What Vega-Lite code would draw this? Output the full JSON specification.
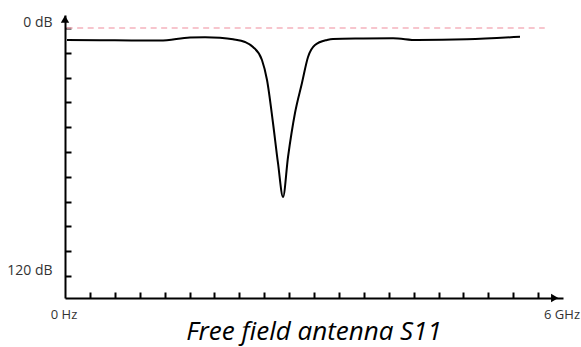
{
  "$schema": "https://vega.github.io/schema/vega-lite/v6.json",
  "autosize": "none",
  "width": 498,
  "height": 283,
  "padding": {"left": 65, "top": 15, "right": 18, "bottom": 49},
  "background": "white",
  "config": {"view": {"stroke": null}},
  "title": {
    "text": "Free field antenna S11",
    "orient": "bottom",
    "anchor": "middle",
    "font": "Open Sans",
    "fontStyle": "italic",
    "fontWeight": "normal",
    "fontSize": 26,
    "color": "#000000",
    "offset": -2
  },
  "datasets": {
    "curve": [
      {"f": 0.024, "db": 5.8},
      {"f": 0.42, "db": 5.95},
      {"f": 0.8, "db": 6.0},
      {"f": 1.145, "db": 6.05},
      {"f": 1.506, "db": 4.6},
      {"f": 1.687, "db": 4.45},
      {"f": 1.867, "db": 4.74},
      {"f": 2.024, "db": 5.47},
      {"f": 2.169, "db": 6.77},
      {"f": 2.265, "db": 9.19},
      {"f": 2.373, "db": 15.48},
      {"f": 2.434, "db": 25.16},
      {"f": 2.506, "db": 45.97},
      {"f": 2.566, "db": 65.32},
      {"f": 2.627, "db": 81.77},
      {"f": 2.687, "db": 62.42},
      {"f": 2.771, "db": 41.13},
      {"f": 2.855, "db": 26.61},
      {"f": 2.928, "db": 14.03},
      {"f": 3.012, "db": 8.23},
      {"f": 3.157, "db": 5.81},
      {"f": 3.229, "db": 5.32},
      {"f": 3.554, "db": 5.08},
      {"f": 3.952, "db": 4.98},
      {"f": 4.241, "db": 5.81},
      {"f": 4.843, "db": 5.47},
      {"f": 5.482, "db": 4.21}
    ],
    "ref": [{"f0": 0.02, "f1": 5.78, "db": 0}],
    "arrows": [
      {"f": 0, "db": -4.3, "shape": "triangle-up"},
      {"f": 5.9, "db": 130.65, "shape": "triangle-right"}
    ]
  },
  "layer": [
    {
      "data": {"name": "ref"},
      "mark": {"type": "rule", "color": "#f5b3bd", "strokeWidth": 1.5, "strokeDash": [6, 4.5]},
      "encoding": {
        "x": {"field": "f0", "type": "quantitative", "scale": {"domain": [0, 6], "nice": false, "zero": false},
          "axis": {
            "values": [0, 0.3, 0.6, 0.9, 1.2, 1.5, 1.8, 2.1, 2.4, 2.7, 3.0, 3.3, 3.6, 3.9, 4.2, 4.5, 4.8, 5.1, 5.4, 5.7, 6],
            "tickCount": 40,
            "title": null,
            "grid": false,
            "domainColor": "#000000",
            "domainWidth": 2,
            "tickColor": "#000000",
            "tickWidth": 2,
            "tickSize": -6,
            "tickOpacity": {"condition": {"test": "datum.value == 0 || datum.value == 6", "value": 0}, "value": 1},
            "labelExpr": "datum.value == 0 ? '0 Hz' : (datum.value == 6 ? '6 GHz' : '')",
            "labelFont": "Open Sans",
            "labelFontSize": 13,
            "labelColor": "#333333",
            "labelPadding": 16,
            "labelOffset": -1.5,
            "labelFlush": false,
            "labelOverlap": false
          }
        },
        "x2": {"field": "f1"},
        "y": {"field": "db", "type": "quantitative", "scale": {"domain": [-6.29, 130.65], "nice": false, "zero": false, "reverse": true},
          "axis": {
            "values": [0, 12, 24, 36, 48, 60, 72, 84, 96, 108, 120],
            "tickCount": 40,
            "title": null,
            "grid": false,
            "domainColor": "#000000",
            "domainWidth": 2,
            "tickColor": "#000000",
            "tickWidth": 2,
            "tickSize": -6,
            "labelExpr": "datum.value == 0 ? '0 dB' : (datum.value == 120 ? '120 dB' : '')",
            "labelFont": "Open Sans",
            "labelFontSize": 14,
            "labelColor": "#333333",
            "labelPadding": 19,
            "labelOffset": -5,
            "labelOverlap": false
          }
        }
      }
    },
    {
      "data": {"name": "curve"},
      "mark": {"type": "line", "color": "#000000", "strokeWidth": 2, "interpolate": "monotone"},
      "encoding": {
        "x": {"field": "f", "type": "quantitative"},
        "y": {"field": "db", "type": "quantitative"}
      }
    },
    {
      "data": {"name": "arrows"},
      "mark": {"type": "point", "filled": true, "color": "#000000", "opacity": 1, "size": 70, "clip": false},
      "encoding": {
        "x": {"field": "f", "type": "quantitative"},
        "y": {"field": "db", "type": "quantitative"},
        "shape": {"field": "shape", "type": "nominal", "scale": null, "legend": null}
      }
    }
  ]
}
